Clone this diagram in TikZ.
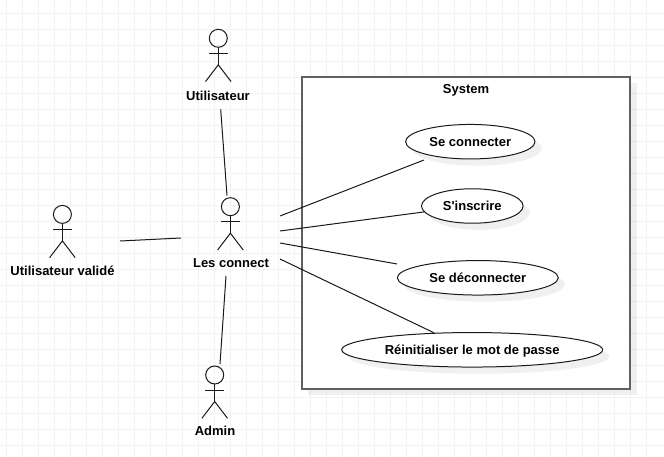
\documentclass[tikz,border=0pt]{standalone}
\usepackage{fontspec}
\setmainfont{Liberation Sans}
\usetikzlibrary{shapes.geometric,shadows}
\definecolor{GridGray}{HTML}{F3F3F3}
\definecolor{BoxGray}{HTML}{606060}
\definecolor{InkBlack}{HTML}{1A1A1A}
\tikzset{
	gridline/.style={GridGray, line width=0.8pt},
	softshadow/.style={drop shadow={shadow xshift=6.7pt, shadow yshift=-6.7pt, fill=black, opacity=0.06}},
	usecase/.style={ellipse, draw=InkBlack, line width=1pt, fill=white, softshadow, inner sep=0pt, minimum height=34.5pt, text height=10pt, text depth=1pt, font=\bfseries\fontsize{13}{15}\selectfont, text=black},
	actorlabel/.style={font=\bfseries\fontsize{13}{15}\selectfont, text=black, inner sep=1pt},
	assoc/.style={InkBlack, line width=1pt}
}
\newcommand{\actorfig}[2] % {x}{y} du centre de la tete
{
	\draw [assoc] (#1,#2) circle [radius=9];
	\draw [assoc] (#1,#2+9) -- (#1,#2+26.5);
	\draw [assoc] (#1-9.3,#2+15.3) -- (#1+9.3,#2+15.3);
	\draw [assoc] (#1-12.8,#2+43.3) -- (#1,#2+26.5) -- (#1+12.8,#2+43.3);
}
\begin{document}
\begin{tikzpicture}[x=1pt, y=-1pt]
	\useasboundingbox (0,0) rectangle (664,457);
	\fill[white] (0,0) rectangle (664,457);

	\foreach \i in {6.7,22.7,...,660} {
		\draw[gridline] (\i,0) -- (\i,457);
	}
	\foreach \i in {13.3,29.3,...,450} {
		\draw[gridline] (0,\i) -- (664,\i);
	}

	\node[draw=BoxGray, line width=2pt, fill=white, softshadow, inner sep=0pt, minimum width=328.6pt, minimum height=312pt] (system) at (466,232.7) {};
	\node[actorlabel] (systemlabel) at (466,90) {System};

	\node[usecase, minimum width=129.4pt] (seconnecter) at (470.3,141.7) {Se connecter};
	\node[usecase, minimum width=101.6pt] (sinscrire) at (472.3,206) {S\textquotesingle inscrire};
	\node[usecase, minimum width=161pt] (sedeconnecter) at (477.8,277.8) {Se déconnecter};
	\node[usecase, minimum width=261pt] (reinitialiser) at (472.2,349.8) {Réinitialiser le mot de passe};

	\actorfig{218.3}{38.3}
	\actorfig{230.4}{206.7}
	\actorfig{62.4}{214.4}
	\actorfig{214.7}{375}

	\node[actorlabel] (utilisateur) at (218,95.5) {Utilisateur};
	\node[actorlabel] (lesconnect) at (231,263.5) {Les connect};
	\node[actorlabel] (utilisateurvalide) at (62.5,271) {Utilisateur validé};
	\node[actorlabel] (admin) at (215,431) {Admin};

	\coordinate (utilisateurbas) at (220.7,109.3);
	\coordinate (connecthaut) at (227,195.7);
	\coordinate (validedroite) at (120,241);
	\coordinate (connectgauche) at (181,238);
	\coordinate (connectbas) at (226,276);
	\coordinate (adminhaut) at (220,364);
	\coordinate (connectdroiteA) at (280,216);
	\coordinate (connectdroiteB) at (280,231);
	\coordinate (connectdroiteC) at (280,243);
	\coordinate (connectdroiteD) at (280,259);
	\coordinate (seconnecterbas) at (424,160);
	\coordinate (sedeconnectergauche) at (397,264);

	\draw[assoc] (utilisateurbas) -- (connecthaut);
	\draw[assoc] (validedroite) -- (connectgauche);
	\draw[assoc] (connectbas) -- (adminhaut);
	\draw[assoc] (connectdroiteA) -- (seconnecterbas);
	\draw[assoc] (connectdroiteB) -- (sinscrire.187);
	\draw[assoc] (connectdroiteC) -- (sedeconnectergauche);
	\draw[assoc] (connectdroiteD) -- (reinitialiser.156);
\end{tikzpicture}
\end{document}
